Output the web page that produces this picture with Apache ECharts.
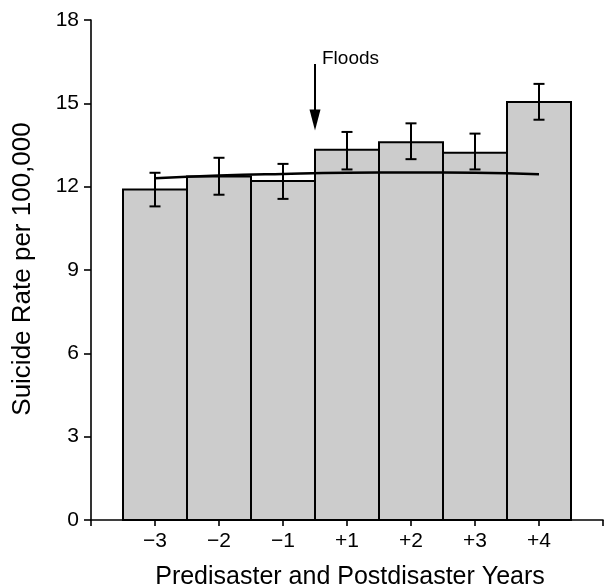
<!DOCTYPE html>
<html>
<head>
<meta charset="utf-8">
<script src="https://cdn.jsdelivr.net/npm/echarts@6/dist/echarts.min.js"></script>
<style>
  html, body { margin: 0; padding: 0; background: #fff; }
  #chart { width: 606px; height: 587px; }
</style>
</head>
<body>
<div id="chart"></div>
<script>
// years around the floods, no year 0
const yearLabels = ['−3', '−2', '−1', '+1', '+2', '+3', '+4'];
// suicide rate per 100,000 and its error bar ends
const rates = [11.9, 12.37, 12.2, 13.33, 13.6, 13.22, 15.05];
const errLow = [11.29, 11.71, 11.56, 12.62, 12.99, 12.62, 14.41];
const errHigh = [12.5, 13.04, 12.82, 13.97, 14.28, 13.91, 15.7];
// fitted trend
const trend = [12.30, 12.40, 12.46, 12.50, 12.51, 12.50, 12.45];
// floods arrow: position between -1 and +1, top and tip
const floods = [[2.5, 16.42, 14.02]];

const font = '"Liberation Sans", Arial, Helvetica, sans-serif';
const chart = echarts.init(document.getElementById('chart'));

const barData = rates.map((v, i) => [i, v]);
const errData = rates.map((v, i) => [i, errLow[i], errHigh[i]]);
const trendData = trend.map((v, i) => [i, v]);

const option = {
  animation: false,
  backgroundColor: '#fff',
  grid: { left: 91, right: -1, top: 20, bottom: 67 },
  xAxis: {
    type: 'value',
    min: -1,
    max: 7,
    interval: 1,
    splitLine: { show: false },
    axisLine: { lineStyle: { color: '#000', width: 1.6 } },
    axisTick: { length: 6, lineStyle: { color: '#000', width: 1.6 } },
    axisLabel: {
      margin: 11,
      color: '#000',
      fontSize: 21,
      fontFamily: font,
      formatter: v => yearLabels[v] || ''
    }
  },
  yAxis: {
    type: 'value',
    min: 0,
    max: 18,
    interval: 3,
    splitLine: { show: false },
    axisLine: { show: true, onZero: false, lineStyle: { color: '#000', width: 1.6 } },
    axisTick: { show: true, length: 7, lineStyle: { color: '#000', width: 1.6 } },
    axisLabel: { margin: 12, color: '#000', fontSize: 21, fontFamily: font }
  },
  graphic: [
    {
      type: 'text', x: 23, y: 269, rotation: Math.PI / 2,
      style: { text: 'Suicide Rate per 100,000', fill: '#000', font: '26px ' + font, align: 'center', verticalAlign: 'middle' }
    },
    {
      type: 'text', x: 350, y: 577,
      style: { text: 'Predisaster and Postdisaster Years', fill: '#000', font: '25px ' + font, align: 'center', verticalAlign: 'middle' }
    }
  ],
  series: [
    {
      type: 'custom',
      z: 2,
      data: barData,
      renderItem: (params, api) => {
        const x = api.value(0), y = api.value(1);
        const p0 = api.coord([x - 0.5, y]);
        const p1 = api.coord([x + 0.5, 0]);
        return {
          type: 'rect',
          shape: { x: p0[0], y: p0[1], width: p1[0] - p0[0], height: p1[1] - p0[1] },
          style: { fill: '#cccccc', stroke: '#000', lineWidth: 2 }
        };
      }
    },
    {
      type: 'custom',
      z: 4,
      data: errData,
      renderItem: (params, api) => {
        const x = api.value(0);
        const lo = api.coord([x, api.value(1)]);
        const hi = api.coord([x, api.value(2)]);
        const w = 5.5;
        const st = { stroke: '#000', lineWidth: 2 };
        return {
          type: 'group',
          children: [
            { type: 'line', shape: { x1: lo[0], y1: lo[1], x2: hi[0], y2: hi[1] }, style: st },
            { type: 'line', shape: { x1: lo[0] - w, y1: lo[1], x2: lo[0] + w, y2: lo[1] }, style: st },
            { type: 'line', shape: { x1: hi[0] - w, y1: hi[1], x2: hi[0] + w, y2: hi[1] }, style: st }
          ]
        };
      }
    },
    {
      type: 'line',
      z: 5,
      data: trendData,
      smooth: true,
      showSymbol: false,
      lineStyle: { color: '#000', width: 2.5 }
    },
    {
      type: 'custom',
      z: 5,
      data: floods,
      renderItem: (params, api) => {
        const x = api.value(0);
        const top = api.coord([x, api.value(1)]);
        const tip = api.coord([x, api.value(2)]);
        const headH = 21, headW = 5.5;
        return {
          type: 'group',
          children: [
            { type: 'line', shape: { x1: top[0], y1: top[1], x2: tip[0], y2: tip[1] - headH + 2 }, style: { stroke: '#000', lineWidth: 2 } },
            { type: 'polygon', shape: { points: [[tip[0] - headW, tip[1] - headH], [tip[0] + headW, tip[1] - headH], [tip[0], tip[1]]] }, style: { fill: '#000' } },
            { type: 'text', x: top[0] + 7, y: top[1] - 5, style: { text: 'Floods', fill: '#000', font: '19px ' + font, align: 'left', verticalAlign: 'middle' } }
          ]
        };
      }
    }
  ]
};

chart.setOption(option);
</script>
</body>
</html>
